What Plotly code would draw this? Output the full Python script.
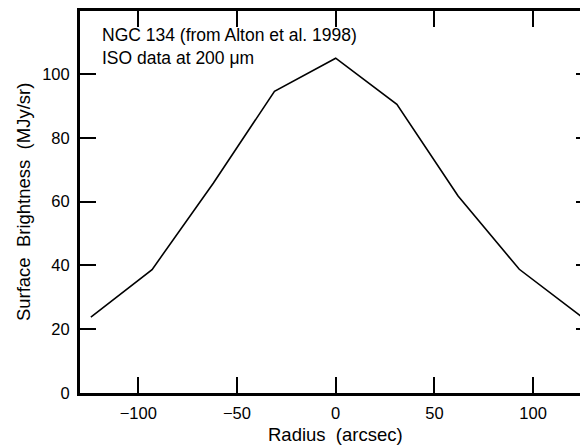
import plotly.graph_objects as go

radius = [-124, -93, -62, -31, 0, 31, 62, 93, 124]
brightness = [23.8, 38.7, 65.8, 94.6, 105.0, 90.5, 61.8, 38.8, 24.2]

x_ticks = [-100, -50, 0, 50, 100]
x_tick_labels = ["\u2212100", "\u221250", "0", "50", "100"]
y_ticks = [0, 20, 40, 60, 80, 100]

x_title = "Radius \u00a0(arcsec)"
y_title = "Surface \u00a0Brightness \u00a0(MJy/sr)"
note_lines = ["NGC 134 (from Alton et al. 1998)", "ISO data at 200 \u03bcm"]

FONT = "Liberation Sans, Arial, Helvetica, sans-serif"

fig = go.Figure()
fig.add_trace(go.Scatter(x=radius, y=brightness, mode="lines",
                         line=dict(color="black", width=1.6), showlegend=False))
fig.add_trace(go.Scatter(x=[None], y=[None], yaxis="y2", showlegend=False,
                         hoverinfo="skip"))

fig.update_layout(
    width=580, height=438,
    margin=dict(l=72, r=0, t=3, b=53),
    paper_bgcolor="white", plot_bgcolor="white",
    font=dict(family=FONT, color="black", size=16),
    xaxis=dict(range=[-129.5, 127.8], tickvals=x_ticks, ticktext=x_tick_labels,
               ticks="inside", ticklen=16, tickwidth=1.5, tickcolor="black",
               showline=True, linewidth=3, linecolor="black", mirror="ticks",
               showgrid=False, zeroline=False, ticklabelstandoff=3,
               tickfont=dict(size=16.5)),
    yaxis=dict(range=[0, 119.8], tickvals=y_ticks,
               ticks="inside", ticklen=16, tickwidth=1.5, tickcolor="black",
               showline=True, linewidth=3, linecolor="black", mirror=False,
               showgrid=False, zeroline=False,
               tickfont=dict(size=16.5), ticklabelstandoff=4),
    yaxis2=dict(range=[0, 119.8], tickvals=y_ticks, overlaying="y", side="right",
                ticks="inside", ticklen=12, tickwidth=1.5, tickcolor="black",
                showticklabels=False, showline=False, showgrid=False,
                zeroline=False),
    annotations=[
        dict(text=note_lines[0], xref="paper", yref="paper",
             x=0.0394, y=0.936, xanchor="left", yanchor="middle",
             showarrow=False, font=dict(size=17.5)),
        dict(text=note_lines[1], xref="paper", yref="paper",
             x=0.0394, y=0.876, xanchor="left", yanchor="middle",
             showarrow=False, font=dict(size=17.5)),
        dict(text=x_title, xref="x", yref="paper", x=0, y=-0.108,
             xanchor="center", yanchor="middle", showarrow=False,
             font=dict(size=18.5)),
        dict(text=y_title, xref="paper", yref="paper", x=-0.112, y=0.5,
             xanchor="center", yanchor="middle", textangle=-90,
             showarrow=False, font=dict(size=18.5)),
    ],
)

fig.write_html("out.html")
